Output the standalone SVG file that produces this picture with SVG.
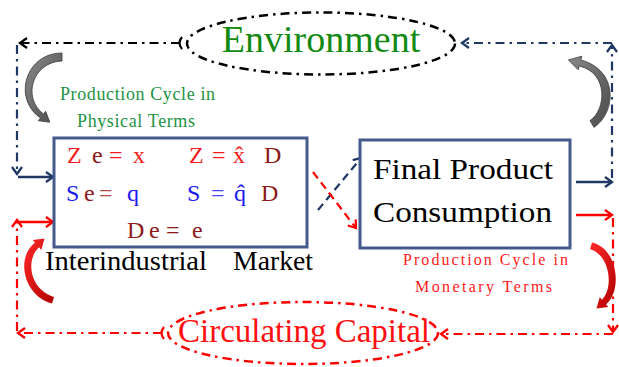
<svg xmlns="http://www.w3.org/2000/svg" width="619" height="367" viewBox="0 0 619 367">
<defs>
<style>
.serif{font-family:"Liberation Serif","Times New Roman",serif}
.box{fill:#fff;stroke:#44598C;stroke-width:3}
.ell{fill:none;stroke-width:2.5;stroke-dasharray:9 5 2.5 5}
.dd{fill:none;stroke-width:2.2;stroke-dasharray:9 5 2.5 5}
.dash{fill:none;stroke-width:2.2;stroke-dasharray:8 5}
.navy{stroke:#1F3864}
.red{stroke:#FF0000}
.blk{stroke:#000}
.r{fill:#F21B1B}
.dr{fill:#8B1A1A}
.b{fill:#1A1AF0}
.pe{fill:#B04848}
.bl{fill:#4646F0}
</style>
<marker id="aN" markerWidth="12" markerHeight="12" refX="9" refY="6" orient="auto" markerUnits="userSpaceOnUse"><path d="M2,1 L9,6 L2,11" fill="none" stroke="#1F3864" stroke-width="2.3"/></marker>
<marker id="aR" markerWidth="12" markerHeight="12" refX="9" refY="6" orient="auto" markerUnits="userSpaceOnUse"><path d="M2,1 L9,6 L2,11" fill="none" stroke="#FF0000" stroke-width="2.3"/></marker>
<marker id="aK" markerWidth="12" markerHeight="12" refX="9" refY="6" orient="auto" markerUnits="userSpaceOnUse"><path d="M2,1 L9,6 L2,11" fill="none" stroke="#000" stroke-width="2.3"/></marker>
<marker id="tK" markerWidth="10" markerHeight="14" refX="3" refY="7" orient="auto" markerUnits="userSpaceOnUse"><path d="M1,1 Q6,7 1,13" fill="none" stroke="#000" stroke-width="2.2"/></marker>
<marker id="tR" markerWidth="10" markerHeight="14" refX="3" refY="7" orient="auto" markerUnits="userSpaceOnUse"><path d="M1,1 Q6,7 1,13" fill="none" stroke="#FF0000" stroke-width="2.2"/></marker>
<linearGradient id="gG" x1="0" y1="0" x2="1" y2="1"><stop offset="0" stop-color="#8a8a8a"/><stop offset="1" stop-color="#4a4a4a"/></linearGradient>
<linearGradient id="gR" x1="0" y1="0" x2="1" y2="1"><stop offset="0" stop-color="#ff2a2a"/><stop offset="1" stop-color="#b00000"/></linearGradient>
</defs>
<rect width="619" height="367" fill="#fff"/>

<g id="connectors">
<path class="dd blk" d="M180,43 H20" marker-start="url(#tK)" marker-end="url(#aK)"/>
<path class="dd navy" d="M612,43 H462" marker-end="url(#aN)"/>
<path class="dd navy" d="M612,178 V45" marker-end="url(#aN)"/>
<path class="navy" d="M576,182 H612" fill="none" stroke-width="2.3" marker-end="url(#aN)"/>
<path class="dd navy" d="M17,45 V174" marker-end="url(#aN)"/>
<path class="navy" d="M18,177 H53" fill="none" stroke-width="2.3" marker-end="url(#aN)"/>
<path class="red" d="M18,222 H53" fill="none" stroke-width="2.3" marker-end="url(#aR)"/>
<path class="dd red" d="M17,331 V220" marker-end="url(#aR)"/>
<path class="dd red" d="M162,333 H18" marker-start="url(#tR)" marker-end="url(#aR)"/>
<path class="red" d="M576,215 H612" fill="none" stroke-width="2.3" marker-end="url(#aR)"/>
<path class="dd red" d="M613,218 V332" marker-end="url(#aR)"/>
<path class="dd red" d="M613,334 H441" marker-end="url(#aR)"/>
<path class="dash navy" d="M318,210 L361,158" marker-end="url(#aN)"/>
<path class="dash red" d="M313,172 L356,228" marker-end="url(#aR)"/>
<path d="M62,53 C26,53 12,98 40.5,118 L38.3,120.7 L49.8,122.2 L45.7,111.3 L43.5,114 C22,98 32,62 62,61 Z" fill="url(#gG)" stroke="#3a3a3a" stroke-width="0.8"/>
<path d="M594,127.4 C616,113 619,70 580.8,60.1 L581.8,56.2 L568.4,59.9 L578.2,69.8 L579.2,65.9 C609,73 606,110 590,120.6 Z" fill="url(#gG)" stroke="#3a3a3a" stroke-width="0.8"/>
<path d="M52,303.5 C24,296 15,258 35,242.7 L32.7,240.1 L44.5,238.4 L41.3,249.9 L39,247.3 C25,260 30,290 54,297 Z" fill="url(#gR)"/>
<path d="M592,242.5 C619,249 622,292 606,304.3 L608.2,306.9 L596.4,308.5 L599.8,297.1 L602,299.7 C614,288 610,255 590,249 Z" fill="url(#gR)"/>
</g>

<g id="environment">
<ellipse class="ell blk" cx="321" cy="43.5" rx="134" ry="31"/>
<text class="serif" x="321" y="52" font-size="38" fill="#138A13" text-anchor="middle">Environment</text>
</g>

<g id="circulating-capital">
<ellipse class="ell red" cx="303" cy="333" rx="135" ry="31"/>
<text class="serif" x="304" y="342" font-size="33" fill="#FF1010" text-anchor="middle">Circulating Capital</text>
</g>

<g id="interindustrial-market">
<rect class="box" x="54" y="138" width="253" height="109"/>
<text class="serif" font-size="24" y="163"><tspan class="r" x="67">Z</tspan><tspan class="dr" x="92">e</tspan><tspan class="r" x="109">=</tspan><tspan class="r" x="133">x</tspan><tspan class="r" x="189">Z</tspan><tspan class="r" x="212">=</tspan><tspan class="r" x="233">x̂</tspan><tspan class="dr" x="264">D</tspan></text>
<text class="serif" font-size="24" y="201"><tspan class="b" x="66">S</tspan><tspan class="dr" x="84">e</tspan><tspan class="pe" x="99">=</tspan><tspan class="b" x="127">q</tspan><tspan class="b" x="187">S</tspan><tspan class="bl" x="211">=</tspan><tspan class="b" x="234">q̂</tspan><tspan class="dr" x="261">D</tspan></text>
<text class="serif" font-size="24" y="238"><tspan class="dr" x="127">D</tspan><tspan class="dr" x="149">e</tspan><tspan class="dr" x="166">=</tspan><tspan class="dr" x="192">e</tspan></text>
<text class="serif" font-size="27" y="270" fill="#000"><tspan x="45" textLength="162" lengthAdjust="spacingAndGlyphs">Interindustrial</tspan><tspan x="233" textLength="80" lengthAdjust="spacingAndGlyphs">Market</tspan></text>
</g>

<g id="final-product-consumption">
<rect class="box" x="360" y="140" width="210" height="108"/>
<text class="serif" x="373" y="179" font-size="29" fill="#000" textLength="180" lengthAdjust="spacingAndGlyphs">Final Product</text>
<text class="serif" x="373" y="222" font-size="29" fill="#000" textLength="179" lengthAdjust="spacingAndGlyphs">Consumption</text>
</g>

<g id="label-physical">
<text class="serif" x="60" y="100" font-size="18" fill="#229444" textLength="155" lengthAdjust="spacing">Production Cycle in</text>
<text class="serif" x="77" y="127" font-size="18" fill="#229444" textLength="118" lengthAdjust="spacing">Physical Terms</text>
</g>

<g id="label-monetary">
<text class="serif" x="403" y="265" font-size="16" fill="#FF1A1A" textLength="165" lengthAdjust="spacing">Production Cycle in</text>
<text class="serif" x="415" y="292" font-size="16" fill="#FF1A1A" textLength="137" lengthAdjust="spacing">Monetary Terms</text>
</g>
</svg>
